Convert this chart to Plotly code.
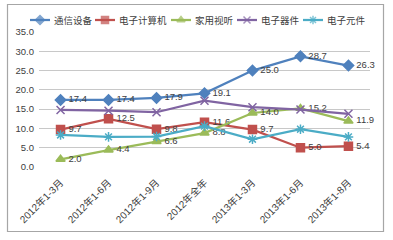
import plotly.graph_objects as go

categories = ["2012年1-3月", "2012年1-6月", "2012年1-9月", "2012年全年",
              "2013年1-3月", "2013年1-6月", "2013年1-8月"]
tongxin = [17.4, 17.4, 17.9, 19.1, 25.0, 28.7, 26.3]
jisuanji = [9.7, 12.5, 9.8, 11.6, 9.7, 5.0, 5.4]
shiting = [2.0, 4.4, 6.6, 8.8, 14.0, 15.2, 11.9]
qijian = [14.8, 14.6, 14.2, 17.2, 15.5, 14.9, 13.8]
yuanjian = [8.3, 7.8, 7.9, 10.6, 7.2, 9.8, 7.8]
y_ticks = [0, 5, 10, 15, 20, 25, 30, 35]

W, H = 393, 240
# outer margins (paper area) and plot-area edges in pixels
ML, MR, MT, MB = 4, 4, 4, 73
PL, PR, PT = 39, 370, 32  # plot area left, right, top (bottom = H - MB)
PW, PH = W - ML - MR, H - MT - MB

font_fam = "Liberation Sans, Noto Sans CJK SC, sans-serif"
cjk_fam = "Noto Sans CJK SC, sans-serif"
txt_col = "#404040"
label_font = dict(size=9.5, color=txt_col, family=font_fam)

series = [
    ("通信设备", tongxin, "#4F81BD", "diamond", 8, True),
    ("电子计算机", jisuanji, "#C0504D", "square", 8, True),
    ("家用视听", shiting, "#9BBB59", "triangle-up", 8, True),
    ("电子器件", qijian, "#8064A2", "x-thin-open", 8, False),
    ("电子元件", yuanjian, "#4BACC6", "asterisk-open", 8, False),
]


def px_to_paper_x(px):
    return (px - ML) / PW


def px_to_paper_y(py):
    return (H - MB - py) / PH


fig = go.Figure()
for name, vals, color, sym, size, show_lab in series:
    fig.add_trace(go.Scatter(
        x=categories, y=vals, name=name,
        mode="lines+markers+text" if show_lab else "lines+markers",
        text=[f"\u2009{v:.1f}" for v in vals] if show_lab else None,
        textposition="middle right",
        textfont=label_font,
        line=dict(color=color, width=2.25),
        marker=dict(symbol=sym, size=size, color=color,
                    line=dict(color=color, width=1.5)),
        cliponaxis=False, showlegend=False,
    ))

# Custom legend (Excel style: short line with centred marker), drawn on a
# pixel-scaled helper axis pair spanning the whole paper area.
legend_x = [30, 95, 171, 237, 303]
legend_y = 20
for (name, vals, color, sym, size, _), lx in zip(series, legend_x):
    fig.add_trace(go.Scatter(
        x=[lx, lx + 10, lx + 20], y=[-legend_y] * 3,
        xaxis="x2", yaxis="y2", mode="lines+markers",
        line=dict(color=color, width=2.25),
        marker=dict(symbol=sym, size=[0, 7, 0], color=color,
                    line=dict(color=color, width=1.5)),
        cliponaxis=False, showlegend=False, hoverinfo="skip",
    ))
    fig.add_annotation(x=lx + 22, y=-legend_y, xref="x2", yref="y2",
                       text=name, showarrow=False, xanchor="left",
                       yanchor="middle",
                       font=dict(size=9.5, color=txt_col, family=cjk_fam))

fig.add_shape(type="rect", xref="paper", yref="paper",
              x0=px_to_paper_x(7.5), x1=px_to_paper_x(383.5),
              y0=px_to_paper_y(231.5), y1=px_to_paper_y(4.5),
              line=dict(color="#A6A6A6", width=1.2), fillcolor="rgba(0,0,0,0)",
              layer="below")

fig.update_layout(
    width=W, height=H,
    margin=dict(l=ML, r=MR, t=MT, b=MB, autoexpand=False),
    paper_bgcolor="white", plot_bgcolor="rgba(0,0,0,0)",
    font=dict(family=font_fam, size=9.5, color=txt_col),
    showlegend=False,
    xaxis=dict(type="category", tickangle=-45, showgrid=False, zeroline=False,
               showline=False, ticks="", ticklabelstandoff=7,
               domain=[px_to_paper_x(PL), px_to_paper_x(PR)],
               tickfont=dict(size=10, color=txt_col, family=font_fam)),
    yaxis=dict(range=[0, 35], tickvals=y_ticks, tickformat=".1f",
               domain=[0, px_to_paper_y(PT)], ticklabelstandoff=4,
               showgrid=True, gridcolor="#C8C8C8", gridwidth=1,
               zeroline=False, showline=False, ticks="",
               tickfont=dict(size=9.5, color=txt_col, family=font_fam)),
    xaxis2=dict(domain=[0, 1], anchor="y2", range=[ML, W - MR],
                visible=False, fixedrange=True),
    yaxis2=dict(domain=[0, 1], anchor="x2", range=[-(H - MB), -MT],
                visible=False, fixedrange=True),
)

fig.write_html("out.html")
